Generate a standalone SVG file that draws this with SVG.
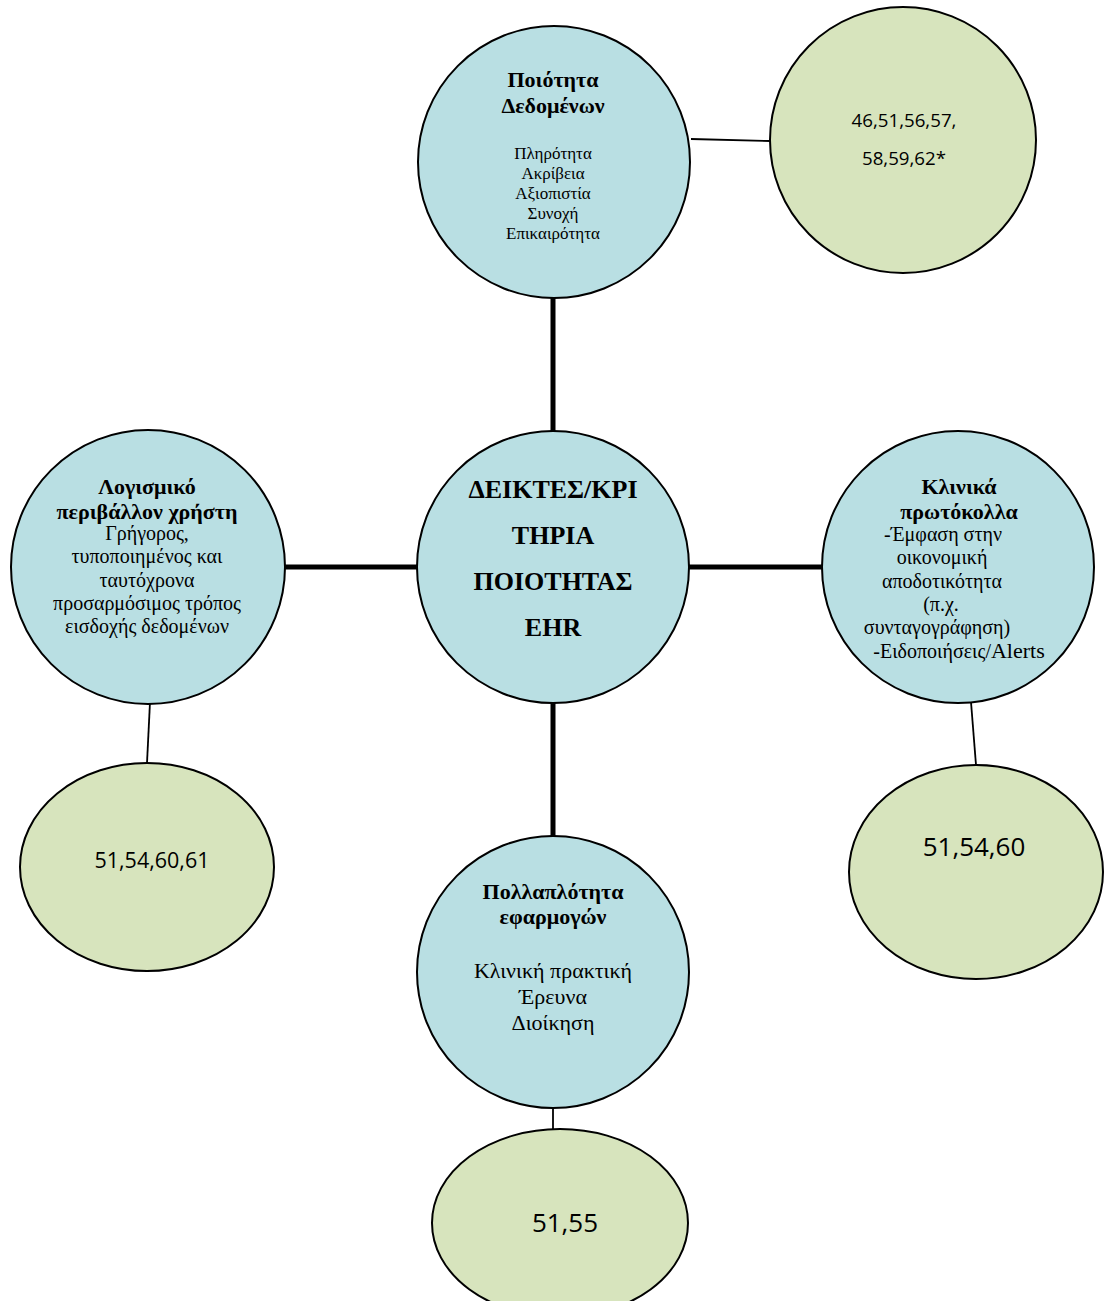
<svg xmlns="http://www.w3.org/2000/svg" width="1104" height="1301" viewBox="0 0 1104 1301">
<style>
.blue{fill:#b9dfe3;stroke:#000;stroke-width:2}
.green{fill:#d7e4bd;stroke:#000;stroke-width:2}
.thick{stroke:#000;stroke-width:5;fill:none}
.thin{stroke:#000;stroke-width:1.8;fill:none}
.t{font-family:"Liberation Serif","Times New Roman",serif;fill:#000;text-anchor:middle}
.b{font-weight:bold}
.n{font-family:"Open Sans","DejaVu Sans",sans-serif;fill:#000;text-anchor:middle}
</style>
<rect width="1104" height="1301" fill="#fff"/>
<g id="connectors">
<line class="thick" x1="553" y1="297" x2="553" y2="431"/>
<line class="thick" x1="284" y1="567" x2="418" y2="567"/>
<line class="thick" x1="688" y1="567" x2="824" y2="567"/>
<line class="thick" x1="553" y1="702" x2="553" y2="837"/>
<line class="thin" x1="691" y1="139" x2="770" y2="141"/>
<line class="thin" x1="150" y1="702" x2="147" y2="763"/>
<line class="thin" x1="971" y1="702" x2="976" y2="765"/>
<line class="thin" x1="553" y1="1107" x2="553" y2="1129"/>
</g>
<g id="node-quality">
<circle class="blue" cx="554" cy="162" r="136"/>
<text class="t b" font-size="22" x="553" y="87">Ποιότητα</text>
<text class="t b" font-size="22" x="553" y="113">Δεδομένων</text>
<text class="t" font-size="17" x="553" y="159">Πληρότητα</text>
<text class="t" font-size="17" x="553" y="179">Ακρίβεια</text>
<text class="t" font-size="17" x="553" y="199">Αξιοπιστία</text>
<text class="t" font-size="17" x="553" y="219">Συνοχή</text>
<text class="t" font-size="17" x="553" y="239">Επικαιρότητα</text>
</g>
<g id="node-refs-quality">
<circle class="green" cx="903" cy="140" r="133"/>
<text class="n" font-size="18.7" x="904" y="127">46,51,56,57,</text>
<text class="n" font-size="18.7" x="904" y="165">58,59,62*</text>
</g>
<g id="node-center">
<circle class="blue" cx="553" cy="567" r="136"/>
<text class="t b" font-size="26" x="553" y="498">ΔΕΙΚΤΕΣ/ΚΡΙ</text>
<text class="t b" font-size="26" x="553" y="544">ΤΗΡΙΑ</text>
<text class="t b" font-size="26" x="553" y="590">ΠΟΙΟΤΗΤΑΣ</text>
<text class="t b" font-size="26" x="553" y="636">EHR</text>
</g>
<g id="node-software">
<circle class="blue" cx="148" cy="567" r="137"/>
<text class="t b" font-size="22" x="147" y="494">Λογισμικό</text>
<text class="t b" font-size="22" x="147" y="519">περιβάλλον χρήστη</text>
<text class="t" font-size="20" x="147" y="540">Γρήγορος,</text>
<text class="t" font-size="20" x="147" y="563">τυποποιημένος και</text>
<text class="t" font-size="20" x="147" y="587">ταυτόχρονα</text>
<text class="t" font-size="20" x="147" y="610">προσαρμόσιμος τρόπος</text>
<text class="t" font-size="20" x="147" y="633">εισδοχής δεδομένων</text>
</g>
<g id="node-refs-software">
<ellipse class="green" cx="147" cy="867" rx="127" ry="104"/>
<text class="n" font-size="21.5" x="152" y="868">51,54,60,61</text>
</g>
<g id="node-clinical">
<circle class="blue" cx="958" cy="567" r="136"/>
<text class="t b" font-size="22" x="959" y="494">Κλινικά</text>
<text class="t b" font-size="22" x="959" y="519">πρωτόκολλα</text>
<text class="t" font-size="20" x="943" y="541">-Έμφαση στην</text>
<text class="t" font-size="20" x="942" y="564">οικονομική</text>
<text class="t" font-size="20" x="942" y="588">αποδοτικότητα</text>
<text class="t" font-size="20" x="941" y="611">(π.χ.</text>
<text class="t" font-size="20" x="937" y="634">συνταγογράφηση)</text>
<text class="t" font-size="20" x="959" y="658">-Ειδοποιήσεις/<tspan font-size="22">Alerts</tspan></text>
</g>
<g id="node-refs-clinical">
<ellipse class="green" cx="976" cy="872" rx="127" ry="107"/>
<text class="n" font-size="26" x="974" y="856">51,54,60</text>
</g>
<g id="node-apps">
<circle class="blue" cx="553" cy="972" r="136"/>
<text class="t b" font-size="22" x="553" y="899">Πολλαπλότητα</text>
<text class="t b" font-size="22" x="553" y="924">εφαρμογών</text>
<text class="t" font-size="22" x="553" y="978">Κλινική πρακτική</text>
<text class="t" font-size="22" x="553" y="1004">Έρευνα</text>
<text class="t" font-size="22" x="553" y="1030">Διοίκηση</text>
</g>
<g id="node-refs-apps">
<ellipse class="green" cx="560" cy="1223" rx="128" ry="94"/>
<text class="n" font-size="26" x="565" y="1232">51,55</text>
</g>
</svg>
